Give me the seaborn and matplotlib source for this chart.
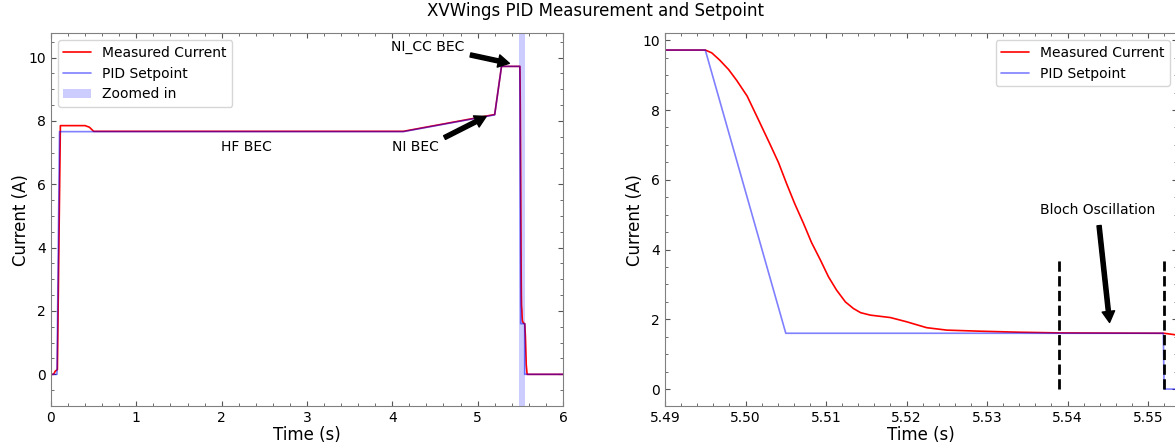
import numpy as np
import matplotlib
matplotlib.use('Agg')
import matplotlib.pyplot as plt
import seaborn as sns
import pandas as pd

# zoomed window around the ramp down (right panel)
zoom_t_meas = [5.4900, 5.4950, 5.4958, 5.4968, 5.4979, 5.4989, 5.5002, 5.5014, 5.5030,
               5.5041, 5.5051, 5.5061, 5.5072, 5.5082, 5.5093, 5.5103, 5.5113, 5.5124,
               5.5134, 5.5143, 5.5155, 5.5180, 5.5200, 5.5225, 5.5250, 5.5290, 5.5340,
               5.5390, 5.5520, 5.5536]
zoom_i_meas = [9.72, 9.72, 9.64, 9.43, 9.16, 8.85, 8.40, 7.82, 7.04,
               6.49, 5.89, 5.32, 4.75, 4.20, 3.70, 3.22, 2.84, 2.50,
               2.31, 2.19, 2.12, 2.05, 1.93, 1.76, 1.69, 1.66, 1.63,
               1.61, 1.60, 1.55]
zoom_t_set = [5.4900, 5.4950, 5.5050, 5.5519, 5.5520, 5.5536]
zoom_i_set = [9.72, 9.72, 1.60, 1.60, 0.00, 0.00]

# full sequence outside the zoomed window (left panel)
pre_t_meas = [0.00, 0.03, 0.05, 0.075, 0.11, 0.40, 0.45, 0.50, 4.13, 5.20, 5.28]
pre_i_meas = [0.00, 0.00, 0.10, 0.15, 7.85, 7.85, 7.80, 7.67, 7.67, 8.20, 9.72]
post_t_meas = [5.56, 5.57, 5.58, 6.00]
post_i_meas = [1.20, 0.30, 0.00, 0.00]
pre_t_set = [0.00, 0.07, 0.10, 4.13, 5.20, 5.28]
pre_i_set = [0.00, 0.00, 7.66, 7.66, 8.19, 9.72]
post_t_set = [6.00]
post_i_set = [0.00]

bloch_t = [5.539, 5.552]

full_meas = pd.DataFrame({'t': pre_t_meas + zoom_t_meas + post_t_meas,
                          'I': pre_i_meas + zoom_i_meas + post_i_meas})
full_set = pd.DataFrame({'t': pre_t_set + zoom_t_set + post_t_set,
                         'I': pre_i_set + zoom_i_set + post_i_set})
zm_meas = pd.DataFrame({'t': zoom_t_meas, 'I': zoom_i_meas})
zm_set = pd.DataFrame({'t': zoom_t_set, 'I': zoom_i_set})

sns.set_style('ticks', rc={'xtick.direction': 'in', 'ytick.direction': 'in',
                           'xtick.top': True, 'ytick.right': True,
                           'axes.edgecolor': '#808080',
                           'xtick.color': '#555555', 'ytick.color': '#555555',
                           'axes.labelcolor': 'black', 'text.color': 'black'})
plt.rcParams['font.family'] = ['DejaVu Sans']

fig = plt.figure(figsize=(11.75, 4.45), dpi=100)
ax1 = fig.add_axes([0.0434, 0.0876, 0.4357, 0.838])
ax2 = fig.add_axes([0.566, 0.0876, 0.4357, 0.838])

arrow = dict(facecolor='black', edgecolor='black', shrink=0.05, width=3, headwidth=9, headlength=8)

# left: whole sequence
sns.lineplot(data=full_meas, x='t', y='I', ax=ax1, color='red', lw=1.2,
             estimator=None, sort=False, label='Measured Current')
sns.lineplot(data=full_set, x='t', y='I', ax=ax1, color='blue', alpha=0.5, lw=1.2,
             estimator=None, sort=False, label='PID Setpoint')
ax1.axvspan(zoom_t_meas[0], zoom_t_meas[-1], color='blue', alpha=0.2, lw=0, label='Zoomed in')
ax1.set_xlim(0, 6)
ax1.set_ylim(-1, 10.77)
ax1.text(2.29, 7.16, 'HF BEC', ha='center', va='center', fontsize=10)
ax1.annotate('NI BEC', xy=(5.13, 8.18), xytext=(4.27, 7.16), ha='center', va='center',
             fontsize=10, arrowprops=arrow)
ax1.annotate('NI_CC BEC', xy=(5.40, 9.80), xytext=(4.42, 10.34), ha='center', va='center',
             fontsize=10, arrowprops=arrow)
ax1.legend(loc='upper left', fontsize=10)

# right: zoom on the ramp down
sns.lineplot(data=zm_meas, x='t', y='I', ax=ax2, color='red', lw=1.2,
             estimator=None, sort=False, label='Measured Current')
sns.lineplot(data=zm_set, x='t', y='I', ax=ax2, color='blue', alpha=0.5, lw=1.2,
             estimator=None, sort=False, label='PID Setpoint')
ax2.vlines(bloch_t, 0, 3.7, colors='black', linestyles='--', lw=2)
ax2.annotate('Bloch Oscillation', xy=(5.5453, 1.75), xytext=(5.5438, 5.14), ha='center',
             va='center', fontsize=10, arrowprops=arrow)
ax2.set_xlim(5.49, 5.5536)
ax2.legend(loc='upper right', fontsize=10)

for ax in (ax1, ax2):
    ax.minorticks_on()
    ax.tick_params(which='both', direction='in', top=True, right=True,
                   labelsize=10, labelcolor='black')
    ax.set_xlabel('Time (s)', fontsize=12, labelpad=1)
    ax.set_ylabel('Current (A)', fontsize=12, labelpad=-1)
ax2.xaxis.set_major_formatter(matplotlib.ticker.FormatStrFormatter('%.2f'))

fig.suptitle('XVWings PID Measurement and Setpoint', fontsize=12, x=0.507, y=0.995)

plt.savefig('out.png', dpi=100)
